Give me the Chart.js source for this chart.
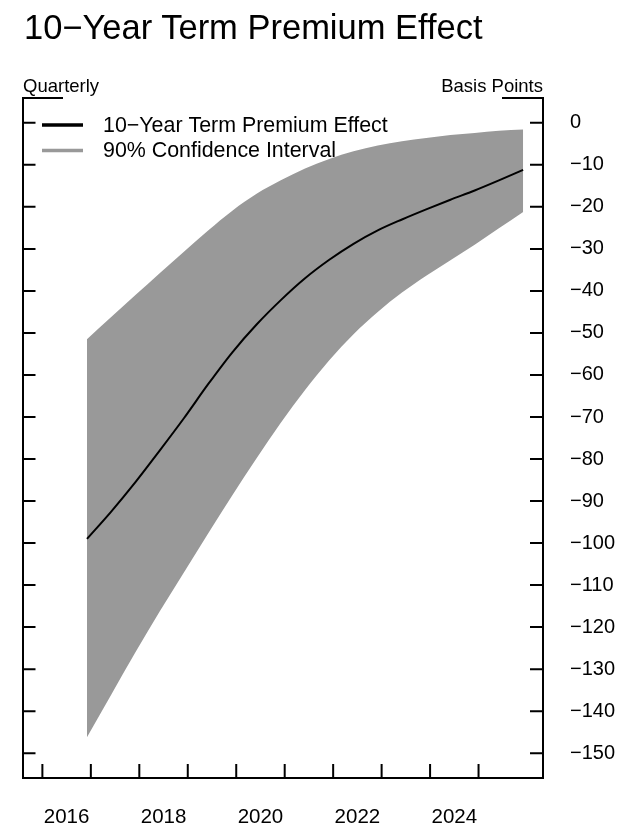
<!DOCTYPE html>
<html>
<head>
<meta charset="utf-8">
<script src="https://cdn.jsdelivr.net/npm/chart.js@4"></script>
<style>
  body { margin: 0; background: #fff; }
  #wrap { position: relative; width: 640px; height: 836px; }
  #title {
    position: absolute; left: 24px; top: 10px; margin: 0;
    font: 34.5px/34px "Liberation Sans", Arial, sans-serif; color: #000; font-weight: normal;
    white-space: nowrap;
  }
</style>
</head>
<body>
<div id="wrap">
  <h1 id="title">10−Year Term Premium Effect</h1>
  <canvas id="premiumChart"></canvas>
</div>
<script>
// Every half year, from 2016Q4 to 2025Q4
const years = [2016.92, 2017.42, 2017.92, 2018.42, 2018.92, 2019.42, 2019.92, 2020.42, 2020.92, 2021.42,
               2021.92, 2022.42, 2022.92, 2023.42, 2023.92, 2024.42, 2024.92, 2025.42, 2025.92];
const effect = [-99, -92.5, -85.5, -78, -70.3, -62.2, -54.6, -48, -42.2, -37,
                -32.6, -28.8, -25.6, -23, -20.6, -18.3, -16.1, -13.7, -11.2];
const upperBand = [-51.5, -46.2, -41, -35.8, -30.7, -25.6, -20.9, -16.9, -13.7, -10.9,
                   -8.6, -6.8, -5.4, -4.4, -3.6, -2.9, -2.4, -1.9, -1.6];
const lowerBand = [-146.2, -136.1, -126, -116.3, -107, -97.7, -88.6, -79.8, -71.4, -63.6,
                   -56.5, -50.3, -45, -40.4, -36.4, -32.7, -29, -25.1, -21.2];

// axis ticks
const yTicks = [0, -10, -20, -30, -40, -50, -60, -70, -80, -90, -100, -110, -120, -130, -140, -150];
const yearTicks = [2016, 2017, 2018, 2019, 2020, 2021, 2022, 2023, 2024, 2025];
const yearLabels = [2016, 2018, 2020, 2022, 2024];

const FONT = '"Liberation Sans", Arial, sans-serif';
const BAND = '#999999';

const toPts = vals => vals.map((v, i) => ({ x: years[i], y: v }));

// --- Frame pieces, inward tick marks, header labels and legend ---
const frameMarks = {
    id: 'frameMarks',
    afterDraw(chart) {
        const { ctx, chartArea: a, scales } = chart;
        ctx.save();
        ctx.strokeStyle = '#000';
        ctx.lineWidth = 2;
        ctx.beginPath();
        // short top pieces at both corners
        ctx.moveTo(a.left - 1, a.top); ctx.lineTo(a.left + 40, a.top);
        ctx.moveTo(a.right - 41, a.top); ctx.lineTo(a.right + 1, a.top);
        // y ticks on both sides, pointing in
        scales.y.ticks.forEach(t => {
            const py = scales.y.getPixelForValue(t.value);
            ctx.moveTo(a.left, py); ctx.lineTo(a.left + 12.5, py);
            ctx.moveTo(a.right, py); ctx.lineTo(a.right - 13, py);
        });
        // year ticks, pointing up
        yearTicks.forEach(yr => {
            const px = scales.x.getPixelForValue(yr);
            ctx.moveTo(px, a.bottom); ctx.lineTo(px, a.bottom - 14);
        });
        ctx.stroke();

        ctx.fillStyle = '#000';
        ctx.font = '18.5px ' + FONT;
        ctx.textBaseline = 'alphabetic';
        ctx.textAlign = 'left';
        ctx.fillText('Quarterly', a.left, 92);
        ctx.textAlign = 'right';
        ctx.fillText('Basis Points', a.right, 92);

        // legend (line + band)
        const items = [
            { text: chart.data.datasets[0].label, color: '#000', y: 125 },
            { text: chart.data.datasets[1].label, color: BAND, y: 150.5 }
        ];
        ctx.font = '21.4px ' + FONT;
        ctx.textAlign = 'left';
        ctx.textBaseline = 'middle';
        items.forEach(it => {
            ctx.beginPath();
            ctx.strokeStyle = it.color;
            ctx.lineWidth = 3.5;
            ctx.moveTo(42, it.y); ctx.lineTo(83, it.y);
            ctx.stroke();
            ctx.fillText(it.text, 103, it.y + 1);
        });
        ctx.restore();
    }
};

new Chart(document.getElementById('premiumChart'), {
    type: 'line',
    data: {
        datasets: [
            {
                label: '10−Year Term Premium Effect',
                data: toPts(effect),
                borderColor: '#000',
                borderWidth: 2,
                pointRadius: 0,
                cubicInterpolationMode: 'monotone',
                fill: false
            },
            {
                label: '90% Confidence Interval',
                data: toPts(upperBand),
                borderWidth: 0,
                borderColor: 'rgba(0,0,0,0)',
                backgroundColor: BAND,
                pointRadius: 0,
                cubicInterpolationMode: 'monotone',
                fill: '+1'
            },
            {
                label: 'lower',
                data: toPts(lowerBand),
                borderWidth: 0,
                borderColor: 'rgba(0,0,0,0)',
                pointRadius: 0,
                cubicInterpolationMode: 'monotone',
                fill: false
            }
        ]
    },
    options: {
        responsive: true,
        maintainAspectRatio: false,
        animation: false,
        layout: { padding: { left: 23, top: 98, right: 0, bottom: 0 } },
        plugins: {
            legend: { display: false },
            tooltip: { enabled: false }
        },
        scales: {
            x: {
                type: 'linear',
                min: 2015.6,
                max: 2026.33,
                afterBuildTicks: s => { s.ticks = yearLabels.map(v => ({ value: v + 0.5 })); },
                afterFit: s => { s.height = 58; },
                grid: { display: false, drawTicks: false },
                border: { display: true, color: '#000', width: 2 },
                ticks: {
                    autoSkip: false,
                    maxRotation: 0,
                    padding: 27,
                    color: '#000',
                    font: { family: FONT, size: 20.5 },
                    callback: v => String(Math.floor(v))
                }
            },
            y: {
                position: 'left',
                min: -155.9,
                max: 5.9,
                afterBuildTicks: s => { s.ticks = yTicks.map(v => ({ value: v })); },
                afterFit: s => { s.width = 0; },
                grid: { display: false, drawTicks: false },
                border: { display: true, color: '#000', width: 2 },
                ticks: { display: false }
            },
            y2: {
                position: 'right',
                min: -155.9,
                max: 5.9,
                afterBuildTicks: s => { s.ticks = yTicks.map(v => ({ value: v })); },
                afterFit: s => { s.width = 97; },
                grid: { display: false, drawTicks: false },
                border: { display: true, color: '#000', width: 2 },
                ticks: {
                    padding: 27,
                    color: '#000',
                    font: { family: FONT, size: 20 },
                    callback: v => v < 0 ? '\u2212' + Math.abs(v) : String(v)
                }
            }
        }
    },
    plugins: [frameMarks]
});
</script>
</body>
</html>
